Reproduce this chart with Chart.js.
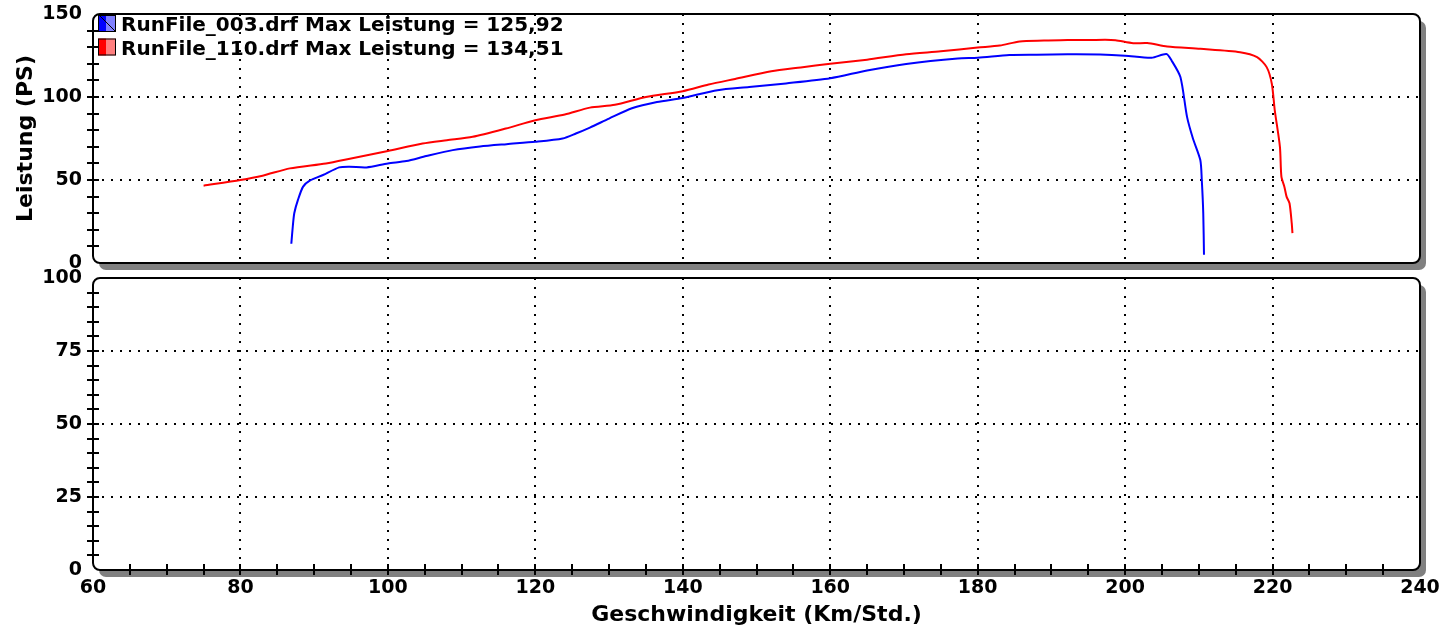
<!DOCTYPE html>
<html lang="de">
<head>
<meta charset="utf-8">
<title>Leistung</title>
<script src="https://cdn.jsdelivr.net/npm/chart.js@4.4.0/dist/chart.umd.min.js"></script>
<style>
  html, body { margin: 0; padding: 0; background: #fff; }
  #wrap { position: relative; width: 1444px; height: 629px; }
  #wrap canvas { position: absolute; left: 0; top: 0; }
</style>
</head>
<body>
<div id="wrap">
  <canvas id="chartLeistung" width="1444" height="629"></canvas>
  <canvas id="chartUnten" width="1444" height="629"></canvas>
</div>
<script>
// Messwerte RunFile_003 (Geschwindigkeit km/h, Leistung PS)
const speedRun003 = [86.9, 87.1, 87.3, 87.8, 88.5, 89.4, 91.2, 93.4, 94.8, 97.1, 100, 102.5, 105.2, 108.8, 112.5, 116.1, 120, 123.7, 125.5, 127.4, 130, 133.1, 136.5, 140, 144.7, 149, 154, 160, 165, 170.3, 177.3, 180, 184.3, 188, 192.2, 196.6, 200, 203.6, 205.6, 206.3, 207.5, 208.4, 209.2, 210.2, 210.4, 210.6, 210.7];
const powerRun003 = [11.6, 22, 30, 38, 46, 49.6, 53, 57.6, 58, 57.6, 60, 61.4, 64.4, 68, 70.2, 71.6, 73, 75, 78, 81.6, 87, 93.2, 97, 99.4, 104.1, 106, 108.2, 111.3, 116, 119.9, 123.2, 123.6, 125.3, 125.5, 125.7, 125.6, 124.9, 123.6, 125.92, 122, 112, 88, 75, 62, 50, 30, 5];

// Messwerte RunFile_110
const speedRun110 = [75, 80, 83, 86.7, 91.6, 95, 100, 104.7, 108, 111.5, 116, 120, 124, 127.4, 130.8, 135, 140, 143.5, 147.1, 152, 156, 160, 165, 170.3, 175, 180, 183, 185.7, 189, 192.2, 195, 197.3, 198.7, 201.1, 203, 205.7, 210.2, 215.6, 217.9, 219.2, 219.9, 220.3, 221, 221.2, 221.6, 221.9, 222.3, 222.6, 222.7];
const powerRun110 = [46.6, 50, 52.6, 57, 60, 63, 67.5, 72, 74, 76, 81, 86, 89.5, 93.6, 95.3, 100, 103.5, 107.5, 110.9, 115.5, 117.8, 120, 122.5, 125.7, 127.5, 129.8, 131, 133.5, 134, 134.4, 134.3, 134.51, 134.2, 132.4, 132.5, 130.4, 129, 127, 124, 118, 108, 92, 70, 52, 46, 40, 36, 24, 18];

const legendLabels = ["RunFile_003.drf Max Leistung = 125,92", "RunFile_110.drf Max Leistung = 134,51"];

// Achsenbeschriftung
const speedTicks = [60, 80, 100, 120, 140, 160, 180, 200, 220, 240];
const powerTicks = [0, 50, 100, 150];
const lowerTicks = [0, 25, 50, 75, 100];

const FONT = "'DejaVu Sans', Verdana, sans-serif";
Chart.defaults.font.family = FONT;
Chart.defaults.color = "#000";

const toPoints = (xs, ys) => xs.map((x, i) => ({ x: x, y: ys[i] }));
const setTicks = (values) => (scale) => {
  scale.ticks = values.map((v) => ({ value: v }));
};
// feste Achsengröße, ohne zusätzlichen Rand für die Beschriftung
const fixSize = (w, h) => (s) => {
  if (w !== null) s.width = w;
  if (h !== null) s.height = h;
  s.paddingTop = 0;
  s.paddingBottom = 0;
  s.paddingLeft = 0;
  s.paddingRight = 0;
};
// keine Gitterlinie am Rand (dort liegt der Rahmen)
const gridColor = (c) =>
  c.tick && (c.tick.value === c.scale.min || c.tick.value === c.scale.max)
    ? "rgba(0,0,0,0)"
    : "#000";

const dottedGrid = { color: gridColor, lineWidth: 2, drawTicks: false };
const dottedBorder = { display: false, dash: [2, 7] };
const tickFont = { size: 19, weight: "bold" };
const titleFont = { size: 22, weight: "bold" };

// Rahmen, Schatten und Teilstriche
const panelPlugin = {
  id: "panel",
  beforeDraw(chart) {
    const { ctx, chartArea: a } = chart;
    ctx.save();
    ctx.fillStyle = "#808080";
    ctx.beginPath();
    ctx.roundRect(a.left + 6, a.top + 7, a.width, a.height, 7);
    ctx.fill();
    ctx.fillStyle = "#fff";
    ctx.beginPath();
    ctx.roundRect(a.left, a.top, a.width, a.height, 7);
    ctx.fill();
    ctx.restore();
  },
  afterDraw(chart, args, opts) {
    const { ctx, chartArea: a, scales } = chart;
    ctx.save();
    ctx.strokeStyle = "#000";
    ctx.lineWidth = 2;
    ctx.beginPath();
    for (let v = scales.y.min + opts.yMinor; v < scales.y.max; v += opts.yMinor) {
      const py = Math.round(scales.y.getPixelForValue(v));
      ctx.moveTo(a.left - 6, py);
      ctx.lineTo(a.left + 6, py);
    }
    if (opts.xMinor) {
      for (let v = scales.x.min + opts.xMinor; v < scales.x.max; v += opts.xMinor) {
        const px = Math.round(scales.x.getPixelForValue(v));
        ctx.moveTo(px, a.bottom - 6);
        ctx.lineTo(px, a.bottom + 5);
      }
    }
    ctx.stroke();
    ctx.beginPath();
    ctx.roundRect(a.left, a.top, a.width, a.height, 7);
    ctx.stroke();
    ctx.restore();
  },
};

// Legende oben links im Diagramm
const legendPlugin = {
  id: "runLegend",
  afterDraw(chart) {
    const { ctx, chartArea: a } = chart;
    const colors = [["#0000ff", "#8080ff"], ["#ff0000", "#ff8080"]];
    ctx.save();
    ctx.font = "bold 20px " + FONT;
    ctx.textBaseline = "alphabetic";
    ctx.fillStyle = "#000";
    legendLabels.forEach((label, i) => {
      const bx = a.left + 5;
      const by = a.top + 1 + i * 23.5;
      ctx.fillStyle = colors[i][0];
      ctx.fillRect(bx, by, 8, 17);
      ctx.fillStyle = colors[i][1];
      ctx.fillRect(bx + 8, by, 10, 17);
      ctx.strokeStyle = "#000";
      ctx.lineWidth = 1;
      ctx.strokeRect(bx + 0.5, by + 0.5, 17, 16);
      if (i === 0) {
        ctx.beginPath();
        ctx.moveTo(bx + 2, by + 1);
        ctx.lineTo(bx + 17, by + 16);
        ctx.stroke();
      }
      ctx.fillStyle = "#000";
      ctx.fillText(label, bx + 23, a.top + 17 + i * 23.5);
    });
    ctx.restore();
  },
};

document.addEventListener("DOMContentLoaded", function () {
  // Oberes Diagramm: Leistung
  const topOptions = {
    type: "line",
    data: {
      datasets: [
        {
          label: legendLabels[0],
          data: toPoints(speedRun003, powerRun003),
          borderColor: "#0000ff",
          borderWidth: 2,
          pointRadius: 0,
          tension: 0.25,
          fill: false,
        },
        {
          label: legendLabels[1],
          data: toPoints(speedRun110, powerRun110),
          borderColor: "#ff0000",
          borderWidth: 2,
          pointRadius: 0,
          tension: 0.25,
          fill: false,
        },
      ],
    },
    options: {
      responsive: false,
      animation: false,
      layout: { padding: { left: 0, top: 14, right: 24, bottom: 366 } },
      plugins: {
        legend: { display: false },
        tooltip: { enabled: false },
        panel: { yMinor: 10 },
      },
      scales: {
        x: {
          type: "linear",
          min: 60,
          max: 240,
          afterBuildTicks: setTicks(speedTicks),
          afterFit: fixSize(null, 0),
          ticks: { display: false },
          grid: dottedGrid,
          border: dottedBorder,
        },
        y: {
          min: 0,
          max: 150,
          afterBuildTicks: setTicks(powerTicks),
          afterFit: fixSize(93, null),
          ticks: { font: tickFont, padding: 11 },
          grid: dottedGrid,
          border: dottedBorder,
          title: {
            display: true,
            text: "Leistung (PS)",
            font: titleFont,
            padding: { top: 13, bottom: 0 },
          },
        },
      },
    },
    plugins: [panelPlugin, legendPlugin],
  };
  new Chart(document.getElementById("chartLeistung").getContext("2d"), topOptions);

  // Unteres Diagramm: leer
  const bottomOptions = {
    type: "line",
    data: { datasets: [] },
    options: {
      responsive: false,
      animation: false,
      layout: { padding: { left: 0, top: 278, right: 24, bottom: 0 } },
      plugins: {
        legend: { display: false },
        tooltip: { enabled: false },
        panel: { yMinor: 5, xMinor: 5 },
      },
      scales: {
        x: {
          type: "linear",
          min: 60,
          max: 240,
          afterBuildTicks: setTicks(speedTicks),
          afterFit: fixSize(null, 59),
          ticks: { font: tickFont, padding: 7, maxRotation: 0 },
          grid: dottedGrid,
          border: dottedBorder,
          title: {
            display: true,
            text: "Geschwindigkeit (Km/Std.)",
            font: titleFont,
            padding: { top: 0, bottom: 1 },
          },
        },
        y: {
          min: 0,
          max: 100,
          afterBuildTicks: setTicks(lowerTicks),
          afterFit: fixSize(93, null),
          ticks: { font: tickFont, padding: 11 },
          grid: dottedGrid,
          border: dottedBorder,
        },
      },
    },
    plugins: [panelPlugin],
  };
  new Chart(document.getElementById("chartUnten").getContext("2d"), bottomOptions);
});
</script>
</body>
</html>
